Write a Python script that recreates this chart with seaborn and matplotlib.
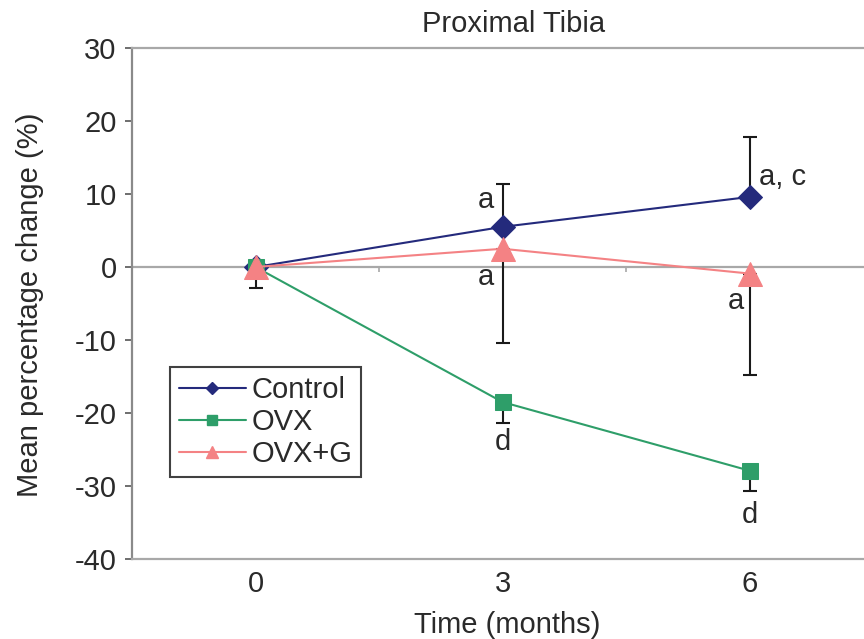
import numpy as np
import pandas as pd
import matplotlib
matplotlib.use("Agg")
import matplotlib.pyplot as plt
from matplotlib.lines import Line2D
import seaborn as sns

# ---- data ----
times = [0, 3, 6]
time_labels = ["0", "3", "6"]
groups = ["Control", "OVX", "OVX+G"]
control = [0.0, 5.5, 9.6]
ovx = [0.0, -18.5, -27.9]
ovx_g = [0.0, 2.5, -0.9]
# one-sided error bars (upper for Control, lower for OVX and OVX+G)
control_err_up = [0.0, 5.9, 8.2]
ovx_err_low = [2.9, 2.9, 2.8]
ovx_g_err_low = [0.0, 12.9, 13.9]
# significance letters
ann_text = ["a", "a", "a, c", "a", "d", "d"]
ann_x = [2.80, 2.80, 6.40, 5.83, 3.0, 6.0]
ann_y = [9.2, -1.4, 12.3, -4.7, -24.0, -34.0]

colors = {"Control": "#242A7C", "OVX": "#2E9E69", "OVX+G": "#F48284"}
markers = {"Control": "D", "OVX": "s", "OVX+G": "^"}
msizes = {"Control": 12.5, "OVX": 11.5, "OVX+G": 17.5}

df = pd.DataFrame({
    "time": times * 3,
    "value": control + ovx + ovx_g,
    "group": [g for g in groups for _ in times],
})

sns.set_theme(style="white")
plt.rcParams["font.family"] = ["Liberation Sans", "DejaVu Sans"]
plt.rcParams["axes.unicode_minus"] = False
txt_color = "#2a2a2a"
grid_gray = "#A8A8A8"
FS = 21

fig = plt.figure(figsize=(8.64, 6.39), dpi=100)
ax = fig.add_axes([132 / 864, (639 - 559) / 639, (864 - 132) / 864, (559 - 48) / 639])

# zero line with small category ticks
ax.axhline(0, color=grid_gray, lw=1.6, zorder=1)
mids = [(times[i] + times[i + 1]) / 2 for i in range(len(times) - 1)]
ax.vlines(mids, -0.75, 0, color=grid_gray, lw=1.2, zorder=1)

# error bars
def draw_err(x, y, low, up):
    xs, ys, lo, hi = [], [], [], []
    for xi, yi, l, u in zip(x, y, low, up):
        if l > 0 or u > 0:
            xs.append(xi); ys.append(yi); lo.append(l); hi.append(u)
    ax.errorbar(xs, ys, yerr=[lo, hi], fmt="none", ecolor="#1a1a1a",
                elinewidth=1.5, capsize=5, capthick=1.5, zorder=2)

zeros = [0.0] * len(times)
draw_err(times, control, zeros, control_err_up)
draw_err(times, ovx, ovx_err_low, zeros)
draw_err(times, ovx_g, ovx_g_err_low, zeros)

for g in groups:
    sub = df[df["group"] == g]
    sns.lineplot(data=sub, x="time", y="value", ax=ax, color=colors[g],
                 marker=markers[g], markersize=msizes[g], markeredgecolor=colors[g],
                 linewidth=1.5, legend=False, zorder=3)

for t, x, y in zip(ann_text, ann_x, ann_y):
    ax.text(x, y, t, ha="center", va="center", fontsize=FS, color=txt_color)

ax.set_xlim(-1.5, 7.39)
ax.set_ylim(-40, 30)
ax.set_xticks(times)
ax.set_xticklabels(time_labels)
ax.set_yticks(np.arange(-40, 31, 10))
ax.tick_params(axis="x", length=0, pad=8, labelsize=FS, labelcolor=txt_color)
ax.tick_params(axis="y", length=5, width=1.2, color="#555555", direction="out",
               pad=6, labelsize=FS, labelcolor=txt_color, left=True)
ax.set_xlabel("")
ax.set_ylabel("")

for side in ["top", "bottom"]:
    ax.spines[side].set_color(grid_gray)
    ax.spines[side].set_linewidth(1.6)
ax.spines["left"].set_color("#8A8A8A")
ax.spines["left"].set_linewidth(1.6)
ax.spines["right"].set_visible(False)

fig.text(514 / 864, 1 - 24 / 639, "Proximal Tibia", ha="center", va="center",
         fontsize=FS, color=txt_color)
fig.text(507 / 864, 1 - 625 / 639, "Time (months)", ha="center", va="center",
         fontsize=FS, color=txt_color)
fig.text(30 / 864, 1 - 305 / 639, "Mean percentage change (%)", ha="center",
         va="center", rotation=90, fontsize=FS, color=txt_color)

handles = [Line2D([0], [0], color=colors[g], marker=markers[g],
                  markersize={"Control": 6.5, "OVX": 7, "OVX+G": 9}[g],
                  lw=1.5) for g in groups]
leg = ax.legend(handles, groups, loc="lower left", bbox_to_anchor=(0.052, 0.160),
                borderaxespad=0, frameon=True, fancybox=False, fontsize=FS,
                handlelength=2.3, handletextpad=0.2, labelspacing=0.15,
                borderpad=0.3)
leg.get_frame().set_edgecolor("#111111")
leg.get_frame().set_linewidth(1.5)
for t in leg.get_texts():
    t.set_color(txt_color)

fig.savefig("out.png", dpi=100)
